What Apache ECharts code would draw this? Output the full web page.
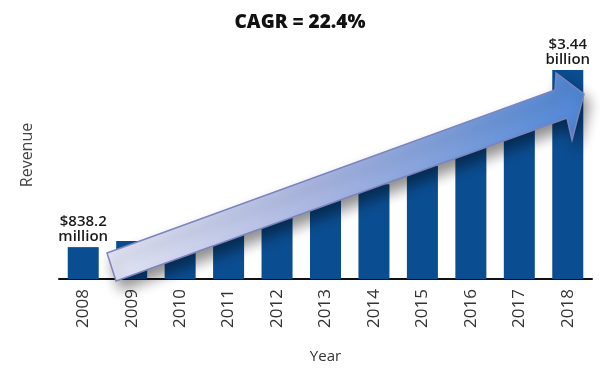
<!DOCTYPE html>
<html>
<head>
<meta charset="utf-8">
<script src="https://cdn.jsdelivr.net/npm/echarts@6/dist/echarts.min.js"></script>
<style>html,body{margin:0;padding:0;background:#fff}#c{width:600px;height:372px}</style>
</head>
<body>
<div id="c"></div>
<script>
var years = ['2008','2009','2010','2011','2012','2013','2014','2015','2016','2017','2018'];
var revenue = [838.2, 930, 1050, 1180, 1340, 1530, 1760, 2030, 2340, 2720, 3440];
var valueLabels = {0: '$838.2\nmillion', 10: '$3.44\nbillion'};
var titleText = 'CAGR = 22.4%';

var chart = echarts.init(document.getElementById('c'), null, {renderer: 'canvas'});

var barData = revenue.map(function (v, i) {
  var item = {value: v};
  if (valueLabels[i]) {
    item.label = {
      show: true, position: 'top', distance: 3,
      formatter: valueLabels[i],
      fontFamily: 'Open Sans', fontSize: 15, fontWeight: 600,
      lineHeight: 15, color: '#1a1a1a'
    };
  }
  return item;
});

chart.setOption({
  animation: false,
  title: {
    text: titleText, left: 'center', top: 8,
    textStyle: {fontFamily: 'Open Sans', fontSize: 19, fontWeight: 800, color: '#111'}
  },
  grid: {left: 59, right: 8, top: 70, bottom: 93, containLabel: false},
  xAxis: {
    type: 'category', data: years,
    name: 'Year', nameLocation: 'middle', nameGap: 70,
    nameTextStyle: {fontFamily: 'Open Sans', fontSize: 15, color: '#333'},
    axisLine: {lineStyle: {color: '#111', width: 2}},
    axisTick: {show: false},
    axisLabel: {rotate: 90, margin: 10, fontFamily: 'Open Sans', fontSize: 17, color: '#333'}
  },
  yAxis: {
    type: 'value', min: 370, max: 3440, show: false
  },
  series: [{
    type: 'bar', data: barData, barWidth: '64%',
    itemStyle: {color: '#0b4d91'}
  }],
  graphic: [
    {
      type: 'text', x: 27, y: 155, rotation: Math.PI / 2,
      style: {text: 'Revenue', fontFamily: 'Open Sans', fontSize: 16, fill: '#444',
              align: 'center', verticalAlign: 'middle'}
    },
    {
      type: 'polygon', z: 100,
      shape: {points: [[107,253],[555,90],[556,73],[584,94],[572,140],[567,118],[116,281]]},
      style: {
        fill: new echarts.graphic.LinearGradient(0, 0, 1, 0, [
          {offset: 0, color: '#e4e6f5'},
          {offset: 0.45, color: '#a9b6e2'},
          {offset: 1, color: '#4f87d6'}
        ]),
        stroke: '#7c84bd', lineWidth: 1.5,
        shadowBlur: 14, shadowOffsetX: 5, shadowOffsetY: 8,
        shadowColor: 'rgba(0,0,0,0.45)'
      }
    }
  ]
});
</script>
</body>
</html>
